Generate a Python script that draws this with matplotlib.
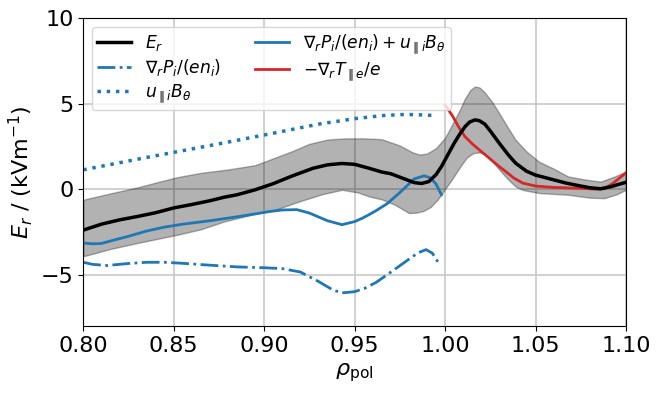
import numpy as np
import matplotlib
matplotlib.use('Agg')
import matplotlib.pyplot as plt

# E_r (mittelwert) und Unsicherheitsband
er_x = [0.800, 0.810, 0.820, 0.830, 0.840, 0.850, 0.860, 0.870, 0.878, 0.885,
        0.895, 0.905, 0.915, 0.927, 0.935, 0.943, 0.950, 0.958, 0.965, 0.970,
        0.977, 0.983, 0.987, 0.991, 0.995, 0.998, 1.002, 1.005, 1.008, 1.011,
        1.0135, 1.0165, 1.019, 1.022, 1.025, 1.030, 1.035, 1.039, 1.045, 1.050,
        1.058, 1.067, 1.075, 1.080, 1.086, 1.092, 1.096, 1.100]
er_y = [-2.40, -2.05, -1.80, -1.60, -1.38, -1.10, -0.90, -0.68, -0.47, -0.33,
        -0.04, 0.32, 0.75, 1.22, 1.42, 1.50, 1.45, 1.22, 1.00, 0.90,
        0.62, 0.38, 0.33, 0.44, 0.85, 1.32, 2.10, 2.68, 3.20, 3.65,
        3.92, 4.05, 4.00, 3.80, 3.40, 2.68, 2.00, 1.52, 1.05, 0.82,
        0.60, 0.35, 0.18, 0.08, 0.02, 0.15, 0.28, 0.40]

hi_x = [0.800, 0.815, 0.830, 0.840, 0.852, 0.865, 0.880, 0.895, 0.905, 0.915,
        0.925, 0.935, 0.945, 0.955, 0.965, 0.975, 0.982, 0.986, 0.990, 0.995,
        1.000, 1.005, 1.008, 1.011, 1.014, 1.0165, 1.019, 1.022, 1.026, 1.030,
        1.035, 1.039, 1.045, 1.052, 1.060, 1.068, 1.078, 1.086, 1.094, 1.100]
hi_y = [-0.62, -0.25, 0.10, 0.38, 0.70, 0.95, 1.15, 1.40, 1.80, 2.20,
        2.65, 2.90, 2.97, 2.97, 2.92, 2.55, 2.15, 2.02, 2.08, 2.40,
        3.00, 4.00, 4.60, 5.30, 5.80, 6.00, 5.95, 5.65, 5.10, 4.43,
        3.55, 2.88, 2.20, 1.60, 1.20, 0.74, 0.55, 0.44, 0.75, 1.03]

lo_x = [0.800, 0.815, 0.830, 0.852, 0.865, 0.878, 0.895, 0.906, 0.920, 0.932,
        0.943, 0.952, 0.958, 0.965, 0.972, 0.980, 0.984, 0.988, 0.992, 0.996,
        1.000, 1.004, 1.008, 1.012, 1.0155, 1.019, 1.022, 1.026, 1.030, 1.035,
        1.039, 1.043, 1.052, 1.068, 1.080, 1.088, 1.095, 1.100]
lo_y = [-3.93, -3.50, -3.15, -2.67, -2.35, -1.89, -1.45, -1.21, -0.70, -0.30,
        -0.04, -0.20, -0.43, -0.60, -0.90, -1.40, -1.38, -1.28, -1.05, -0.60,
        0.00, 0.60, 1.25, 1.85, 2.10, 2.15, 2.05, 1.65, 1.13, 0.55,
        0.15, -0.05, -0.23, -0.33, -0.50, -0.53, -0.30, -0.04]

# grad P_i / (e n_i)
dp_x = [0.800, 0.805, 0.813, 0.825, 0.835, 0.845, 0.855, 0.870, 0.885, 0.900,
        0.910, 0.920, 0.930, 0.938, 0.943, 0.950, 0.9556, 0.962, 0.9721, 0.980,
        0.985, 0.9895, 0.993, 0.997]
dp_y = [-4.28, -4.40, -4.47, -4.35, -4.28, -4.28, -4.34, -4.45, -4.55, -4.60,
        -4.65, -4.85, -5.40, -5.90, -6.07, -6.00, -5.80, -5.45, -4.70, -4.10,
        -3.73, -3.54, -3.75, -4.42]

# u_par B_theta
ub_x = [0.800, 0.830, 0.852, 0.880, 0.905, 0.930, 0.950, 0.965, 0.978, 0.988, 0.995]
ub_y = [1.13, 1.75, 2.19, 2.75, 3.27, 3.80, 4.12, 4.30, 4.37, 4.34, 4.30]

# Summe
sum_x = [0.800, 0.805, 0.810, 0.818, 0.825, 0.835, 0.845, 0.855, 0.870, 0.885,
         0.895, 0.903, 0.910, 0.918, 0.925, 0.935, 0.943, 0.950, 0.9545, 0.9575,
         0.962, 0.968, 0.975, 0.983, 0.9885, 0.992, 0.995, 0.998]
sum_y = [-3.15, -3.20, -3.18, -2.95, -2.76, -2.45, -2.22, -2.05, -1.85, -1.62,
         -1.45, -1.31, -1.22, -1.20, -1.40, -1.85, -2.08, -1.90, -1.69, -1.52,
         -1.25, -0.85, -0.20, 0.60, 0.78, 0.65, 0.30, -0.33]

# -grad T_e / e
te_x = [1.000, 1.004, 1.008, 1.011, 1.015, 1.019, 1.024, 1.029, 1.0335, 1.038,
        1.043, 1.050, 1.060, 1.074, 1.083, 1.088, 1.093, 1.097, 1.100]
te_y = [4.92, 4.30, 3.55, 3.07, 2.65, 2.29, 1.85, 1.40, 1.03, 0.65,
        0.35, 0.18, 0.10, 0.05, 0.00, 0.02, 0.35, 0.70, 0.95]

fig = plt.figure(figsize=(6.61, 3.95), dpi=100)
ax = fig.add_axes([0.126, 0.175, 0.821, 0.779])

# band: obere und untere grenze auf gemeinsames gitter
xb = np.array(sorted(set(hi_x) | set(lo_x)))
ax.fill_between(xb, np.interp(xb, lo_x, lo_y), np.interp(xb, hi_x, hi_y),
                color='k', alpha=0.3, zorder=1)

ax.plot(er_x, er_y, color='k', lw=2.5, label=r'$E_r$', zorder=3)
ax.plot(dp_x, dp_y, color='tab:blue', lw=2, ls='-.', label=r'$\nabla_r P_i/(en_i)$')
ax.plot(ub_x, ub_y, color='tab:blue', lw=2.5, ls=':', label=r'$u_{\parallel i}B_\theta$')
ax.plot(sum_x, sum_y, color='tab:blue', lw=2, label=r'$\nabla_r P_i/(en_i) + u_{\parallel i}B_\theta$')
ax.plot(te_x, te_y, color='tab:red', lw=2, label=r'$-\nabla_r T_{\parallel e}/e$')

ax.set_xlim(0.80, 1.10)
ax.set_ylim(-8, 10)
ax.set_yticks([-5, 0, 5, 10])
ax.set_xticks([0.80, 0.85, 0.90, 0.95, 1.00, 1.05, 1.10])
ax.tick_params(labelsize=16)
ax.grid(True, color='#c8c8c8', lw=1.2)
ax.set_axisbelow(True)
ax.set_xlabel(r'$\rho_{\rm pol}$', fontsize=16)
ax.set_ylabel(r'$E_r$ / (kVm$^{-1}$)', fontsize=16)
ax.legend(loc='upper left', ncol=2, fontsize=12.3, labelspacing=0.25,
          borderpad=0.3)

fig.savefig('out.png', dpi=100)
